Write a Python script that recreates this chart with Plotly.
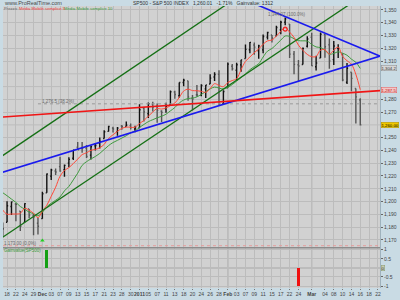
import numpy as np
import pandas as pd
import plotly.graph_objects as go

# ------------------------------------------------------------------ data
prior_dates = ["2010-11-03", "2010-11-04", "2010-11-05", "2010-11-08", "2010-11-09",
               "2010-11-10", "2010-11-11", "2010-11-12", "2010-11-15", "2010-11-16"]
prior_closes = [1197.96, 1221.06, 1225.85, 1223.25, 1213.40,
                1218.71, 1213.54, 1199.21, 1197.75, 1178.34]

dates = ["2010-11-17", "2010-11-18", "2010-11-19", "2010-11-22", "2010-11-23", "2010-11-24",
         "2010-11-26", "2010-11-29", "2010-11-30",
         "2010-12-01", "2010-12-02", "2010-12-03", "2010-12-06", "2010-12-07", "2010-12-08",
         "2010-12-09", "2010-12-10", "2010-12-13", "2010-12-14", "2010-12-15", "2010-12-16",
         "2010-12-17", "2010-12-20", "2010-12-21", "2010-12-22", "2010-12-23", "2010-12-27",
         "2010-12-28", "2010-12-29", "2010-12-30", "2010-12-31",
         "2011-01-03", "2011-01-04", "2011-01-05", "2011-01-06", "2011-01-07", "2011-01-10",
         "2011-01-11", "2011-01-12", "2011-01-13", "2011-01-14", "2011-01-18", "2011-01-19",
         "2011-01-20", "2011-01-21", "2011-01-24", "2011-01-25", "2011-01-26", "2011-01-27",
         "2011-01-28", "2011-01-31",
         "2011-02-01", "2011-02-02", "2011-02-03", "2011-02-04", "2011-02-07", "2011-02-08",
         "2011-02-09", "2011-02-10", "2011-02-11", "2011-02-14", "2011-02-15", "2011-02-16",
         "2011-02-17", "2011-02-18", "2011-02-22", "2011-02-23", "2011-02-24", "2011-02-25",
         "2011-02-28",
         "2011-03-01", "2011-03-02", "2011-03-03", "2011-03-04", "2011-03-07", "2011-03-08",
         "2011-03-09", "2011-03-10", "2011-03-11", "2011-03-14", "2011-03-15", "2011-03-16"]
opens = [1178.3, 1183.8, 1196.1, 1198.1, 1192.5, 1183.7, 1194.2, 1189.1, 1183.0,
         1186.6, 1206.8, 1219.9, 1223.9, 1227.3, 1225.0, 1230.1, 1233.9, 1242.5, 1241.8,
         1241.6, 1236.3, 1243.6, 1245.8, 1249.4, 1254.9, 1257.5, 1254.7, 1259.1, 1258.8,
         1259.4, 1256.8,
         1257.6, 1273.0, 1268.8, 1276.3, 1274.4, 1270.8, 1272.6, 1275.7, 1285.8, 1282.9,
         1293.2, 1294.5, 1280.9, 1283.6, 1283.3, 1288.2, 1292.0, 1297.5, 1299.6, 1276.5,
         1289.1, 1305.9, 1302.8, 1307.0, 1311.9, 1318.8, 1322.5, 1318.1, 1318.7, 1328.7,
         1330.4, 1329.5, 1334.4, 1340.4, 1338.9, 1315.4, 1307.1, 1307.3, 1321.6,
         1328.6, 1305.5, 1312.4, 1330.7, 1322.7, 1311.1, 1319.9, 1315.7, 1293.4, 1301.2,
         1288.5, 1279.5]
highs = [1183.6, 1200.3, 1200.0, 1198.9, 1192.5, 1198.6, 1194.2, 1190.3, 1187.4,
         1207.6, 1221.9, 1225.6, 1225.8, 1235.1, 1228.9, 1234.7, 1240.4, 1246.7, 1246.6,
         1244.3, 1243.8, 1245.8, 1250.2, 1255.8, 1259.4, 1258.6, 1258.4, 1259.9, 1262.6,
         1261.1, 1259.3,
         1276.2, 1274.1, 1277.6, 1278.2, 1276.8, 1271.5, 1277.3, 1286.9, 1286.7, 1293.2,
         1296.1, 1294.6, 1283.4, 1291.2, 1291.9, 1291.3, 1299.7, 1301.3, 1302.7, 1287.2,
         1308.9, 1307.6, 1308.6, 1311.0, 1322.9, 1324.9, 1324.5, 1322.8, 1330.8, 1333.0,
         1330.4, 1337.6, 1341.5, 1344.1, 1338.9, 1317.9, 1310.9, 1320.6, 1329.4,
         1332.1, 1314.2, 1332.3, 1331.1, 1327.7, 1325.7, 1323.2, 1315.7, 1308.4, 1301.2,
         1288.5, 1280.9]
lows = [1173.0, 1183.8, 1189.4, 1184.6, 1176.9, 1183.7, 1186.9, 1173.6, 1174.1,
        1186.6, 1206.8, 1216.8, 1220.7, 1223.3, 1219.5, 1226.9, 1232.6, 1240.3, 1238.2,
        1234.0, 1232.9, 1239.9, 1241.5, 1249.4, 1254.9, 1254.1, 1251.5, 1256.2, 1258.8,
        1256.3, 1254.2,
        1257.6, 1262.7, 1265.4, 1270.4, 1261.7, 1262.2, 1269.6, 1275.7, 1280.5, 1281.2,
        1290.2, 1278.9, 1271.3, 1282.1, 1282.5, 1281.1, 1292.0, 1294.4, 1275.1, 1276.5,
        1289.1, 1302.6, 1294.8, 1301.7, 1311.9, 1316.0, 1314.9, 1311.7, 1316.1, 1326.9,
        1324.6, 1329.5, 1331.0, 1338.1, 1312.3, 1299.6, 1294.3, 1307.3, 1320.6,
        1306.1, 1302.6, 1312.4, 1312.6, 1304.0, 1306.9, 1312.3, 1294.2, 1292.0, 1286.4,
        1261.1, 1259.6]
closes = [1178.6, 1196.7, 1199.7, 1197.8, 1180.7, 1198.4, 1189.4, 1187.8, 1180.6,
          1206.1, 1221.5, 1224.7, 1223.1, 1223.8, 1228.3, 1233.0, 1240.4, 1240.5, 1241.6,
          1235.2, 1242.9, 1243.9, 1247.1, 1254.6, 1258.8, 1256.8, 1257.5, 1258.5, 1259.8,
          1257.9, 1257.6,
          1271.9, 1270.2, 1276.6, 1273.9, 1271.5, 1269.8, 1274.5, 1286.0, 1283.8, 1293.2,
          1295.0, 1281.9, 1280.3, 1283.4, 1290.8, 1291.2, 1296.6, 1299.5, 1276.3, 1286.1,
          1307.6, 1304.0, 1307.1, 1310.9, 1319.1, 1324.6, 1320.9, 1321.9, 1329.2, 1332.3,
          1328.0, 1336.3, 1340.4, 1343.0, 1315.4, 1307.4, 1306.1, 1319.9, 1327.2,
          1306.3, 1308.4, 1331.0, 1321.2, 1310.1, 1321.8, 1320.0, 1295.1, 1304.3, 1296.4,
          1281.9, 1260.0]
future_dates = ["2011-03-17", "2011-03-18", "2011-03-21", "2011-03-22", "2011-03-23"]

gain_dates = ["2010-12-02", "2011-02-24"]
gain_values = [1, -1]

buy_signal = ("2010-12-01", 1169.5)
sell_signal = ("2011-02-18", 1335.0)

# trendlines: (date, price) endpoints
red_line = [("2010-11-16", 1265.9), ("2011-03-23", 1287.0)]
blue_low = [("2010-11-16", 1221.9), ("2011-03-23", 1314.4)]
blue_high = [("2011-02-09", 1354.9), ("2011-03-23", 1313.1)]
green_up = [("2010-11-16", 1233.6), ("2011-02-01", 1355.0)]
green_low = [("2010-11-16", 1169.8), ("2011-03-14", 1355.3)]
fib_level = [("2010-11-30", 1276.5), ("2011-03-23", 1276.5)]
fib_labels = ["1,276.5 (38.2%)", "1,344.07 (100.0%)", "1,173.00 (0.0%)"]

price_ticks = list(range(1170, 1351, 10))

# ------------------------------------------------------------------ positions
all_dates = prior_dates + dates + future_dates
DEC1 = all_dates.index("2010-12-01")
pos = {d: i - DEC1 for i, d in enumerate(all_dates)}
x_bars = [pos[d] for d in dates]

all_closes = pd.Series(prior_closes + closes)
ma5 = all_closes.rolling(5).mean()
ma10 = all_closes.rolling(10).mean()
x_ma = [pos[d] for d in (prior_dates + dates)]
start = len(prior_dates) - 1

# tick labels: every 2 trading days, month starts named
tickvals, ticktext, month_idx = [], [], []
prev_month = None
for d in all_dates:
    ts = pd.Timestamp(d)
    if prev_month is not None and ts.month != prev_month:
        month_idx.append(pos[d])
    prev_month = ts.month
for d in all_dates:
    i = pos[d]
    if i < -9 or i > 76:
        continue
    ts = pd.Timestamp(d)
    if i in month_idx:
        tickvals.append(i)
        ticktext.append("<b>2011</b>" if ts.month == 1 else "<b>" + ts.strftime("%b") + "</b>")
    elif i % 2 == 0 and all(abs(i - m) > 1 for m in month_idx):
        tickvals.append(i)
        ticktext.append(ts.strftime("%d"))

box_values = [ma10.iloc[-1], ma5.iloc[-1], closes[-1]]
shown_price_ticks = [t for t in price_ticks if all(abs(t - b) > 5 for b in box_values)]

XR = [-8.92, 76.47]
Y1R = [1163.85, 1353.08]
Y2R = [-1.108, 1.108]

FONT = "Liberation Sans, Arial, sans-serif"
NARROW = "Liberation Sans Narrow, Arial Narrow, Liberation Sans, sans-serif"
BG = "#c9dbe4"
PLOT = "#d1d1d1"
GRID = "#bcbcbc"

fig = go.Figure()

fig.add_trace(go.Ohlc(x=x_bars, open=opens, high=highs, low=lows, close=closes,
                      increasing_line_color="#111111", decreasing_line_color="#555555",
                      line_width=1.4, tickwidth=0.25, xaxis="x", yaxis="y",
                      showlegend=False, hoverinfo="skip"))

fig.add_trace(go.Scatter(x=x_ma[start:], y=ma10[start:], mode="lines",
                         line=dict(color="#3f9a3f", width=1, shape="spline"),
                         xaxis="x", yaxis="y", showlegend=False))
fig.add_trace(go.Scatter(x=x_ma[start:], y=ma5[start:], mode="lines",
                         line=dict(color="#ff4a3a", width=1, shape="spline"),
                         xaxis="x", yaxis="y", showlegend=False))


def seg(line, color, width, dash="solid"):
    fig.add_trace(go.Scatter(x=[pos[p[0]] for p in line], y=[p[1] for p in line],
                             mode="lines", line=dict(color=color, width=width, dash=dash),
                             xaxis="x", yaxis="y", showlegend=False, hoverinfo="skip"))


seg(fib_level, "#9a9a9a", 1, "dot")
seg(green_up, "#157015", 1.3)
seg(green_low, "#157015", 1.3)
seg(blue_low, "#1a1aee", 1.6)
seg(blue_high, "#1a1aee", 1.6)
seg(red_line, "#f01515", 1.6)

fig.add_trace(go.Scatter(x=[pos[buy_signal[0]]], y=[buy_signal[1]], mode="markers",
                         marker=dict(symbol="triangle-up", size=4, color="#20d020"),
                         xaxis="x", yaxis="y", showlegend=False))
fig.add_trace(go.Scatter(x=[pos[sell_signal[0]]], y=[sell_signal[1]], mode="markers",
                         marker=dict(symbol="circle-open", size=4, color="#f02020",
                                     line=dict(width=1.2)),
                         xaxis="x", yaxis="y", showlegend=False))

fig.add_trace(go.Bar(x=[pos[d] for d in gain_dates], y=gain_values,
                     marker=dict(color=["#14a014" if v > 0 else "#f01010" for v in gain_values],
                                 line=dict(width=0)),
                     width=0.75, xaxis="x2", yaxis="y2", showlegend=False))

axis_font = dict(family=FONT, size=5, color="#444444")
fig.update_layout(
    width=400, height=300,
    margin=dict(l=3, r=17, t=6, b=7, pad=0),
    paper_bgcolor=BG, plot_bgcolor=PLOT,
    font=dict(family=FONT, size=5, color="#444444"),
    bargap=0,
    xaxis=dict(domain=[0, 1], range=XR, anchor="y", tickvals=tickvals, showticklabels=False,
               showgrid=True, gridcolor=GRID, gridwidth=1, zeroline=False,
               rangeslider=dict(visible=False), fixedrange=True),
    yaxis=dict(domain=[0.14286, 1], range=Y1R, side="right", tickvals=shown_price_ticks,
               tickformat=",d", showgrid=True, gridcolor=GRID, gridwidth=1, zeroline=False,
               ticks="outside", ticklen=2, tickcolor="#666", tickfont=axis_font,
               showline=True, linecolor="#9fb2bd", linewidth=1),
    xaxis2=dict(domain=[0, 1], range=XR, anchor="y2", matches="x", tickvals=tickvals,
                ticktext=ticktext, tickangle=0, showgrid=True, gridcolor=GRID, gridwidth=1,
                zeroline=False, ticks="outside", ticklen=1, tickcolor="#777",
                tickfont=axis_font),
    yaxis2=dict(domain=[0, 0.14286], range=Y2R, side="right",
                tickvals=[-1, -0.5, 0.5, 1], ticktext=["-1", "-0.5", "0.5", "1"],
                showgrid=True, gridcolor=GRID, gridwidth=1, zeroline=True,
                zerolinecolor=GRID, ticks="outside", ticklen=2, tickcolor="#666",
                tickfont=axis_font, showline=True, linecolor="#9fb2bd", linewidth=1),
)

shapes = []
# price grid lines also where the labels are hidden
for t in price_ticks:
    if t not in shown_price_ticks:
        shapes.append(dict(type="line", xref="x domain", yref="y", x0=0, x1=1, y0=t, y1=t,
                           layer="below", line=dict(color=GRID, width=1)))
for m in month_idx:
    if XR[0] < m < XR[1]:
        for xr, yr in (("x", "y"), ("x2", "y2")):
            shapes.append(dict(type="line", xref=xr, yref=yr + " domain", x0=m, x1=m,
                               y0=0, y1=1, layer="below",
                               line=dict(color="#9c9c9c", width=1)))
shapes.append(dict(type="line", xref="paper", yref="y", x0=0, x1=1, y0=1165.4, y1=1165.4,
                   line=dict(color="#e59a9a", width=1, dash="dot")))
shapes.append(dict(type="line", xref="paper", yref="paper", x0=0, x1=1, y0=0.14286,
                   y1=0.14286, line=dict(color="#8c8c8c", width=1.5)))
fig.update_layout(shapes=shapes)


def px(xp):
    return (xp - 3) / 380.0


def py(yp):
    return (293 - yp) / 287.0


ann = []


def text(x, y, s, color="#555555", size=5, xanchor="left", **kw):
    ann.append(dict(x=px(x), y=py(y), xref="paper", yref="paper", text=s, showarrow=False,
                    xanchor=xanchor, yanchor="middle", font=dict(family=FONT, size=size,
                                                                color=color), **kw))


text(2, 3, "www.ProRealTime.com", "#4a4a4a", 5.5)
text(277, 3, "SP500 - S&P 500 INDEX   1,260.01   -1.71%   Gainvalue: 1312", "#333333", 5,
     xanchor="right")
text(2, 8.7, "Prezzo", "#6a6a6a", 4.2)
text(17, 8.7, "Media Mobile semplice 5", "#f04040", 4.2)
text(62, 8.7, "Media Mobile semplice 10", "#3a9a3a", 4.2)
text(40, 103, fib_labels[0], "#6a6a6a", 4.5)
text(268, 15, fib_labels[1], "#6a6a6a", 4.5)
text(2, 248, fib_labels[2], "#6a6a6a", 4.5)
text(2, 255, "Gainvalue(SP500)", "#3a9a3a", 4.5)


def box(value, label, bg, border, fg, yref="y"):
    ann.append(dict(x=px(384), y=value, xref="paper", yref=yref, text=label, showarrow=False,
                    xanchor="left", yanchor="middle", bgcolor=bg, bordercolor=border,
                    borderwidth=0.5, borderpad=0, font=dict(family=NARROW, size=4.3, color=fg)))


box(box_values[0], f"{box_values[0]:,.1f}", "#d6d6d6", "#8a8a8a", "#333333")
box(box_values[1], f"{box_values[1]:,.1f}", "#f3c6c6", "#e05a5a", "#c01010")
box(box_values[2], f"{box_values[2]:,.2f}", "#f0c800", "#b09000", "#000000")
box(0, "0", "#c8ccae", "#8a9a70", "#333333", yref="y2")

fig.update_layout(annotations=ann)

fig.write_html("out.html")
